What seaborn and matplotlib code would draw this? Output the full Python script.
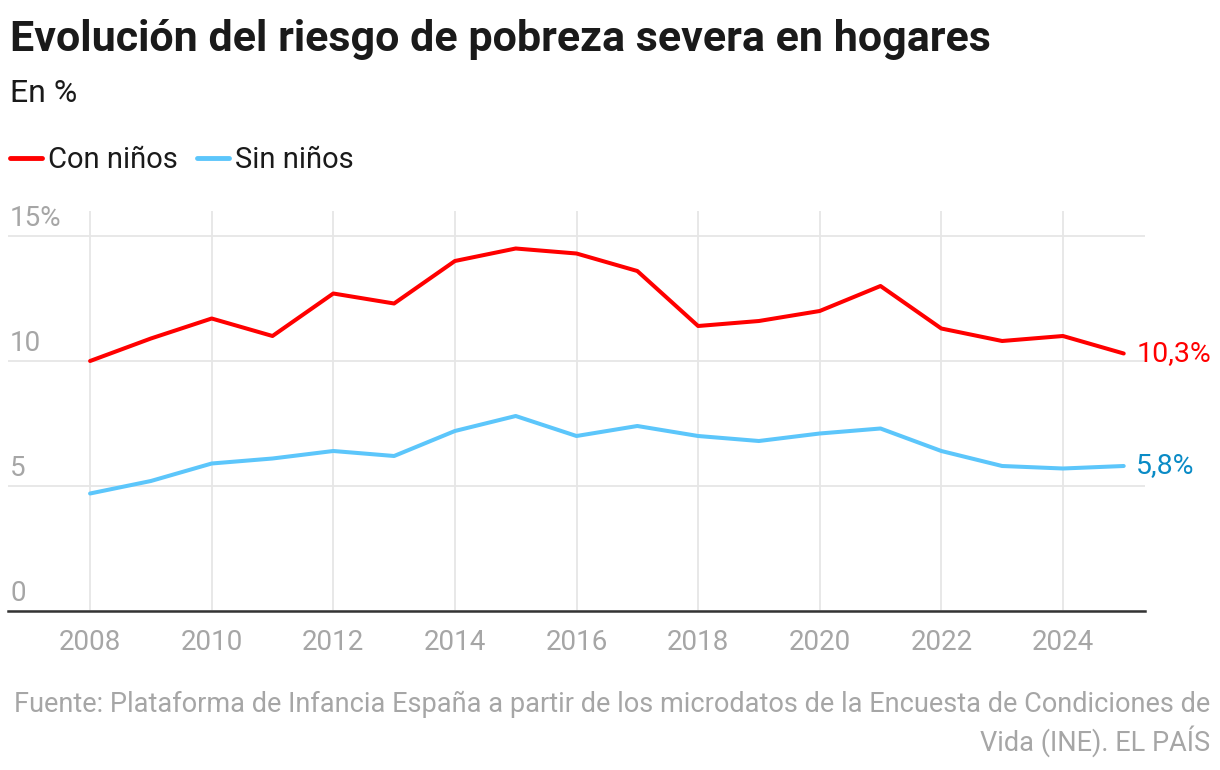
import pandas as pd
import matplotlib
matplotlib.use('Agg')
import matplotlib.pyplot as plt
import matplotlib.transforms as mtransforms
from matplotlib import font_manager
import seaborn as sns

# Datos
years = list(range(2008, 2026))
con_ninos = [10.0, 10.9, 11.7, 11.0, 12.7, 12.3, 14.0, 14.5, 14.3, 13.6,
             11.4, 11.6, 12.0, 13.0, 11.3, 10.8, 11.0, 10.3]
sin_ninos = [4.7, 5.2, 5.9, 6.1, 6.4, 6.2, 7.2, 7.8, 7.0, 7.4,
             7.0, 6.8, 7.1, 7.3, 6.4, 5.8, 5.7, 5.8]
series_names = ['Con niños', 'Sin niños']
y_ticks = [0, 5, 10, 15]
y_tick_labels = ['0', '5', '10', '15%']
end_labels = ['10,3%', '5,8%']

df = pd.DataFrame({
    'Año': years * 2,
    'Valor': con_ninos + sin_ninos,
    'Serie': [series_names[0]] * len(years) + [series_names[1]] * len(years),
})

sns.set_theme(style='white')
installed = {f.name for f in font_manager.fontManager.ttflist}
main_font = 'Liberation Sans Narrow' if 'Liberation Sans Narrow' in installed else 'Roboto'
plt.rcParams['font.family'] = [main_font, 'DejaVu Sans']

line_colors = {'Con niños': '#ff0000', 'Sin niños': '#5cc6fb'}
label_colors = ['#ff0000', '#0a8bc6']
gray = '#a6a6a6'

fig = plt.figure(figsize=(12.2, 7.7), dpi=100)
ax = fig.add_axes([8 / 1220, 159 / 770, 1137 / 1220, 400 / 770])

sns.lineplot(data=df, x='Año', y='Valor', hue='Serie', palette=line_colors,
             linewidth=2.9, ax=ax, legend=False)

ax.set_xlim(2006.65, 2025.35)
ax.set_ylim(0, 16)
ax.set_xticks(list(range(2008, 2025, 2)))
ax.set_yticks(y_ticks)
ax.set_yticklabels([])
ax.grid(True, color='#e6e6e6', linewidth=1.3)
ax.set_axisbelow(True)
ax.tick_params(axis='both', length=0)
ax.tick_params(axis='x', labelsize=20, labelcolor=gray, pad=13)
ax.set_xlabel('')
ax.set_ylabel('')
for side in ['top', 'right', 'left']:
    ax.spines[side].set_visible(False)
ax.spines['bottom'].set_color('#333333')
ax.spines['bottom'].set_linewidth(1.8)

# Etiquetas del eje y dentro del gráfico
trans = mtransforms.blended_transform_factory(ax.transAxes, ax.transData)
trans = mtransforms.offset_copy(trans, fig=fig, x=2, y=10, units='dots')
for val, lab in zip(y_ticks, y_tick_labels):
    ax.text(0, val, lab, transform=trans, ha='left', va='baseline',
            fontsize=20, color=gray)

# Etiquetas finales
last_vals = [con_ninos[-1], sin_ninos[-1]]
for val, lab, col in zip(last_vals, end_labels, label_colors):
    ax.annotate(lab, xy=(years[-1], val), xytext=(9, 0),
                textcoords='offset points', ha='left', va='center',
                fontsize=20.5, color=col, annotation_clip=False)

# Título y subtítulo
fig.text(10 / 1220, 1 - 40 / 770, 'Evolución del riesgo de pobreza severa en hogares',
         ha='left', va='center', fontsize=31, fontweight='bold', color='#1a1a1a')
fig.text(10 / 1220, 1 - 93 / 770, 'En %', ha='left', va='center',
         fontsize=23, color='#1a1a1a')

# Leyenda
handles = [plt.Line2D([], [], color=line_colors[n], linewidth=3.5) for n in series_names]
fig.legend(handles, series_names, loc='center left',
           bbox_to_anchor=(10 / 1220, 1 - 160 / 770), ncol=2, frameon=False,
           fontsize=21, handlelength=1.1, handletextpad=0.2, columnspacing=0.65,
           borderpad=0, borderaxespad=0, labelcolor='#1a1a1a')

# Fuente
fig.text(1210 / 1220, 1 - 724 / 770,
         'Fuente: Plataforma de Infancia España a partir de los microdatos de la Encuesta de Condiciones de\n'
         'Vida (INE). EL PAÍS',
         ha='right', va='center', multialignment='right', fontsize=19.5,
         color=gray, linespacing=1.25)

fig.savefig('out.png', dpi=100)
